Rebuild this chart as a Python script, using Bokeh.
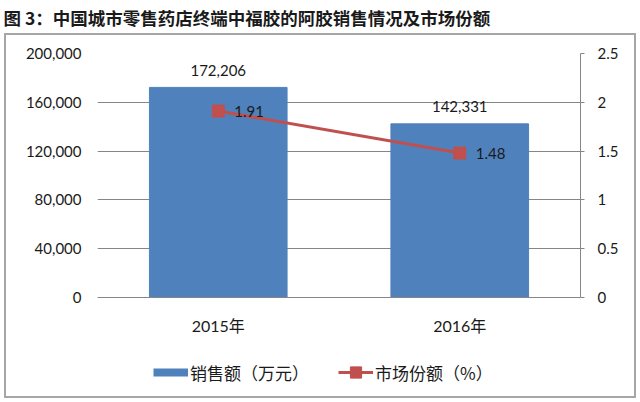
import numpy as np
from bokeh.plotting import figure
from bokeh.models import (FactorRange, Range1d, LinearAxis, FixedTicker, NumeralTickFormatter,
                          Legend, LegendItem, ColumnDataSource, Title)
from bokeh.embed import file_html
from bokeh.resources import INLINE
from bokeh.core.properties import value

# ---- data ----
years = ["2015年", "2016年"]
sales = [172206, 142331]            # 销售额（万元）
share = [1.91, 1.48]                # 市场份额（%）
sales_labels = ["172,206", "142,331"]
share_labels = ["1.91", "1.48"]
left_ticks = [0, 40000, 80000, 120000, 160000, 200000]
right_ticks = [0, 0.5, 1, 1.5, 2, 2.5]
left_max = 200000
right_max = 2.5
title_text = "图 3：中国城市零售药店终端中福胶的阿胶销售情况及市场份额"
legend_sales = "销售额（万元）"
legend_share = "市场份额（%）"

# ---- styling / layout ----
NUM_FONT = "Lato, 'Noto Sans CJK SC'"
CJK_FONT = "'Noto Sans CJK SC'"
TXT = "#1a1a1a"
GRID = "#868686"
BLUE = "#4F81BD"
RED = "#C0504D"
BORDER = "#a6a6a6"

W, H = 640, 402
F_LEFT, F_RIGHT, F_TOP, F_BOTTOM = 97, 580, 53, 392   # frame box (px)
ZERO_Y = 297                                           # pixel row of value 0
value_px = ZERO_Y - F_TOP                              # pixels used by 0..max
below_px = F_BOTTOM - ZERO_Y                           # room under the axis (legend)

src = ColumnDataSource(dict(years=years, sales=sales, share=share,
                            sales_labels=sales_labels, share_labels=share_labels))

frame_css = {
    "background-image": ", ".join([f"linear-gradient({BORDER}, {BORDER})"] * 4),
    "background-size": "632px 2px, 632px 2px, 2px 365px, 2px 365px",
    "background-position": "4px 33px, 4px 396px, 4px 33px, 634px 33px",
    "background-repeat": "no-repeat",
}

p = figure(width=W, height=H, x_range=FactorRange(*years),
           y_range=Range1d(-left_max * below_px / value_px, left_max),
           output_backend="svg", toolbar_location=None,
           min_border_left=F_LEFT, min_border_right=W - F_RIGHT,
           min_border_top=F_TOP, min_border_bottom=H - F_BOTTOM,
           styles=frame_css)
p.extra_y_ranges = {"pct": Range1d(-right_max * below_px / value_px, right_max)}
p.outline_line_color = None
p.background_fill_color = None
p.border_fill_color = None

# title (outermost) + blank spacer title between it and the frame
p.title.text = title_text
p.title.align = "left"
p.title.vertical_align = "middle"
p.title.offset = -94
p.title.standoff = 0
p.title.text_font = CJK_FONT
p.title.text_font_size = "17.5px"
p.title.text_font_style = "bold"
p.title.text_color = TXT
p.add_layout(Title(text=" ", text_font=CJK_FONT, text_font_size="14px", standoff=1), "above")

# left axis
ya = p.yaxis[0]
ya.ticker = FixedTicker(ticks=left_ticks)
ya.formatter = NumeralTickFormatter(format="0,0")
ya.axis_line_color = None
ya.major_tick_line_color = None
ya.minor_tick_line_color = None
ya.major_label_standoff = 10
ya.major_label_text_font = NUM_FONT
ya.major_label_text_font_size = "15px"
ya.major_label_text_color = TXT

# right axis
ra = LinearAxis(y_range_name="pct", ticker=FixedTicker(ticks=right_ticks), bounds=(0, right_max))
ra.axis_line_color = GRID
ra.major_tick_line_color = GRID
ra.major_tick_in = 0
ra.major_tick_out = 4
ra.minor_tick_line_color = None
ra.major_label_standoff = 13
ra.major_label_text_font = NUM_FONT
ra.major_label_text_font_size = "15px"
ra.major_label_text_color = TXT
p.add_layout(ra, "right")

# x axis, pinned at value 0
xa = p.xaxis[0]
xa.fixed_location = 0
xa.axis_line_color = GRID
xa.major_tick_line_color = None
xa.minor_tick_line_color = None
xa.major_label_standoff = 12
xa.major_label_text_font = NUM_FONT
xa.major_label_text_font_size = "16px"
xa.major_label_text_color = TXT

p.xgrid.grid_line_color = None
p.ygrid.ticker = FixedTicker(ticks=left_ticks)
p.ygrid.grid_line_color = GRID

bars = p.vbar(x="years", top="sales", width=0.57, color=BLUE, source=src)
line = p.line(x="years", y="share", y_range_name="pct", color=RED, line_width=3, source=src)
pts = p.scatter(x="years", y="share", y_range_name="pct", marker="square", size=12,
                color=RED, source=src)

p.text(x="years", y="sales", text="sales_labels", source=src, y_offset=-17,
       text_align="center", text_baseline="middle", text_font=value(NUM_FONT),
       text_font_size="15px", text_color=TXT)
p.text(x="years", y="share", text="share_labels", source=src, y_range_name="pct", x_offset=16,
       text_align="left", text_baseline="middle", text_font=value(NUM_FONT),
       text_font_size="15px", text_color=TXT)

# legend swatch for the bars: a thick line (drawn only in the legend)
swatch = p.line(x=[years[0], years[0]], y=np.array([np.nan, np.nan]),
                color=BLUE, line_width=8, line_cap="butt")

leg = Legend(items=[LegendItem(label=legend_sales, renderers=[swatch]),
                    LegendItem(label=legend_share, renderers=[line, pts])],
             orientation="horizontal", location=(56, 6), glyph_width=35, glyph_height=28,
             label_standoff=2, spacing=29, padding=0, margin=0,
             border_line_color=None, background_fill_alpha=0,
             label_text_font=CJK_FONT, label_text_font_size="17px", label_text_color=TXT)
p.add_layout(leg)

open("out.html", "w").write(file_html(p, INLINE))
